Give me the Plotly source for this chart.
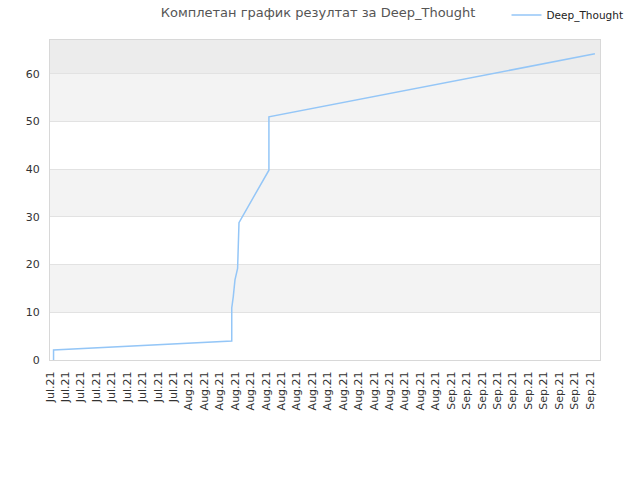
import plotly.graph_objects as go

# Tick labels along the x axis (one per category slot)
tick_labels = ["Jul.21"] * 9 + ["Aug.21"] * 17 + ["Sep.21"] * 10

# Series: position along the category axis and cumulative score
x_pos = [0.23, 0.23, 11.78, 11.78, 11.88, 11.99, 12.16, 12.20, 12.25, 14.19, 14.19, 35.32]
scores = [0.0, 2.1, 4.0, 10.9, 13.3, 16.8, 19.2, 24.5, 28.8, 39.8, 51.0, 64.2]

y_ticks = [0, 10, 20, 30, 40, 50, 60]
y_max = 67.1

fig = go.Figure()
fig.add_trace(go.Scatter(
    x=x_pos, y=scores, mode="lines", name="Deep_Thought",
    line=dict(color="#94c6f7", width=1.5),
))

# alternating background bands
bands = [(10, 20, "#f3f3f3"), (30, 40, "#f3f3f3"), (50, 60, "#f3f3f3"), (60, y_max, "#ececec")]
shapes = []
for y0, y1, c in bands:
    shapes.append(dict(type="rect", xref="paper", yref="y", x0=0, x1=1, y0=y0, y1=y1,
                       fillcolor=c, line=dict(width=0), layer="below"))

fig.update_layout(
    width=640, height=480,
    margin=dict(l=50, r=40, t=40, b=120, autoexpand=False),
    paper_bgcolor="white", plot_bgcolor="white",
    font=dict(family="DejaVu Sans", size=11, color="#333333"),
    title=dict(text="Комплетан график резултат за Deep_Thought", x=0.497, xref="container",
               y=1 - 12 / 480, yanchor="middle", xanchor="center",
               font=dict(family="DejaVu Sans", size=13, color="#555555")),
    shapes=shapes,
    showlegend=True,
    legend=dict(x=0.83, y=1.078, xanchor="left", yanchor="middle", bgcolor="rgba(0,0,0,0)",
                font=dict(size=10.5, color="#222222"), itemwidth=30),
    xaxis=dict(range=[0, 35.65], tickmode="array", tickvals=list(range(len(tick_labels))),
               ticktext=tick_labels, tickangle=-90, showgrid=False, zeroline=False,
               showline=True, linecolor="#d8d8d8", mirror=True, ticks="", automargin=False,
               ticklabelstandoff=6, tickfont=dict(size=11, color="#333333")),
    yaxis=dict(range=[0, y_max], tickvals=y_ticks, showgrid=True, gridcolor="#e2e2e2",
               zeroline=False, showline=True, linecolor="#d8d8d8", mirror=True, ticks="",
               automargin=False, ticklabelstandoff=7, tickfont=dict(size=11, color="#333333")),
)

fig.write_html("out.html", config={"displayModeBar": False},
               post_script="document.body.style.margin='0px';")
